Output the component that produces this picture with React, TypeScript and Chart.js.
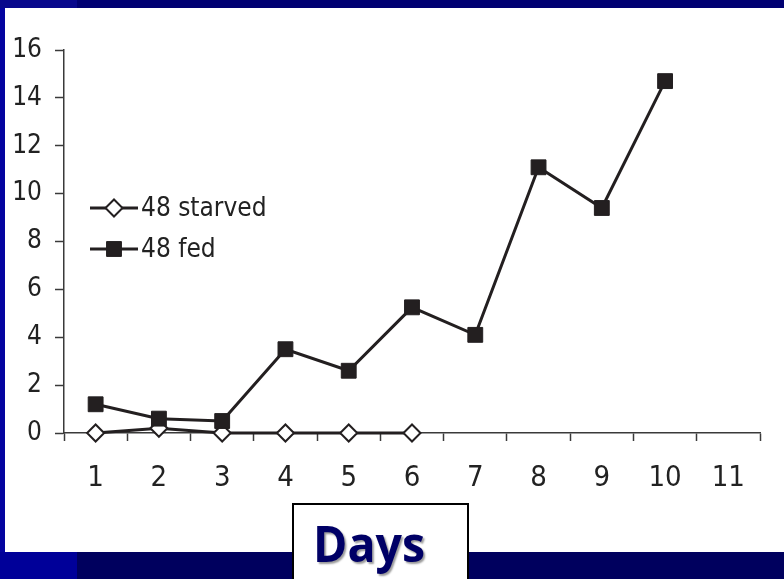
import React, { useEffect, useRef } from "react";
import { Chart, registerables } from "chart.js";

Chart.register(...registerables);

// Days on the x axis
const days = ["1", "2", "3", "4", "5", "6", "7", "8", "9", "10", "11"];

// Series values
const starvedLabel = "48 starved";
const starvedValues = [0, 0.2, 0, 0, 0, 0];
const fedLabel = "48 fed";
const fedValues = [1.2, 0.6, 0.5, 3.5, 2.6, 5.25, 4.1, 11.1, 9.4, 14.7];

// Y axis range
const yMin = 0;
const yMax = 16;
const yStep = 2;

const INK = "#231f20";
const AXIS = "#3a3a3a";
const NARROW = '"Liberation Sans Narrow", "DejaVu Sans Condensed", "Liberation Sans", sans-serif';

// Legend drawn inside the plot: a short line with the series marker on it
const insideLegend = {
  id: "insideLegend",
  afterDatasetsDraw(chart: any) {
    const { ctx, chartArea } = chart;
    const x0 = chartArea.left + 26;
    const x1 = chartArea.left + 74;
    const xm = (x0 + x1) / 2;
    const textX = chartArea.left + 77;
    const y0 = chartArea.top + 158;
    const dy = 41;
    chart.data.datasets.forEach((ds: any, i: number) => {
      const y = y0 + i * dy;
      ctx.save();
      ctx.strokeStyle = ds.borderColor;
      ctx.lineWidth = ds.borderWidth;
      ctx.beginPath();
      ctx.moveTo(x0, y);
      ctx.lineTo(x1, y);
      ctx.stroke();
      const r = ds.pointRadius;
      ctx.fillStyle = ds.pointBackgroundColor;
      ctx.strokeStyle = ds.pointBorderColor;
      ctx.lineWidth = ds.pointBorderWidth;
      ctx.beginPath();
      if (ds.pointStyle === "rect") {
        const s = Math.SQRT1_2 * r;
        ctx.rect(xm - s, y - s, 2 * s, 2 * s);
      } else {
        ctx.moveTo(xm - r, y);
        ctx.lineTo(xm, y - r);
        ctx.lineTo(xm + r, y);
        ctx.lineTo(xm, y + r);
        ctx.closePath();
      }
      ctx.fill();
      ctx.stroke();
      ctx.fillStyle = "#222";
      ctx.font = `26px ${NARROW}`;
      ctx.textAlign = "left";
      ctx.textBaseline = "middle";
      ctx.fillText(ds.label, textX, y + 1);
      ctx.restore();
    });
  },
};

function DaysChart() {
  const ref = useRef<HTMLCanvasElement | null>(null);

  useEffect(() => {
    if (!ref.current) return;
    const chart = new Chart(ref.current, {
      type: "line",
      data: {
        labels: days,
        datasets: [
          {
            label: starvedLabel,
            data: starvedValues,
            borderColor: INK,
            borderWidth: 3,
            pointStyle: "rectRot",
            pointRadius: 8.5,
            pointBackgroundColor: "#ffffff",
            pointBorderColor: INK,
            pointBorderWidth: 2,
            tension: 0,
            clip: false,
            order: 2,
          } as any,
          {
            label: fedLabel,
            data: fedValues,
            borderColor: INK,
            borderWidth: 3,
            pointStyle: "rect",
            pointRadius: 10.5,
            pointBackgroundColor: INK,
            pointBorderColor: INK,
            pointBorderWidth: 1,
            tension: 0,
            clip: false,
            order: 1,
          } as any,
        ],
      },
      options: {
        responsive: false,
        animation: false,
        events: [],
        layout: { padding: { left: 0, top: 50, right: 24, bottom: 0 } },
        plugins: {
          legend: { display: false },
          tooltip: { enabled: false },
        },
        scales: {
          x: {
            type: "category",
            offset: true,
            grid: {
              offset: true,
              drawOnChartArea: false,
              drawTicks: true,
              tickLength: 8,
              tickColor: AXIS,
              tickWidth: 1.5,
            },
            border: { display: true, color: AXIS, width: 1.5 },
            ticks: {
              color: "#222",
              font: { family: NARROW, size: 29 },
              padding: 20,
              maxRotation: 0,
              autoSkip: false,
            },
            afterFit: (scale: any) => {
              scale.height = 146;
            },
          },
          y: {
            min: yMin,
            max: yMax,
            grid: {
              drawOnChartArea: false,
              drawTicks: true,
              tickLength: 9,
              tickColor: AXIS,
              tickWidth: 1.5,
            },
            border: { display: true, color: AXIS, width: 1.5 },
            ticks: {
              stepSize: yStep,
              color: "#222",
              font: { family: NARROW, size: 26 },
              padding: 13,
            },
            afterFit: (scale: any) => {
              scale.width = 64;
            },
          },
        },
      },
      plugins: [insideLegend],
    });
    return () => chart.destroy();
  }, []);

  return (
    <canvas
      ref={ref}
      width={784}
      height={579}
      style={{ position: "absolute", left: 0, top: 0, width: 784, height: 579 }}
    />
  );
}

export default function App() {
  return (
    <div
      style={{
        position: "fixed",
        left: 0,
        top: 0,
        width: 784,
        height: 579,
        background: "#000072",
        overflow: "hidden",
      }}
    >
      <div style={{ position: "absolute", left: 0, top: 0, width: 77, height: 8, background: "#08088c" }} />
      <div style={{ position: "absolute", left: 0, top: 8, width: 5, height: 544, background: "#0404a0" }} />
      <div style={{ position: "absolute", left: 0, top: 552, width: 77, height: 27, background: "#000099" }} />
      <div style={{ position: "absolute", left: 77, top: 552, width: 707, height: 27, background: "#00005e" }} />
      <div style={{ position: "absolute", left: 5, top: 8, width: 779, height: 544, background: "#ffffff" }} />
      <DaysChart />
      <div
        style={{
          position: "absolute",
          left: 292,
          top: 503,
          width: 177,
          height: 82,
          boxSizing: "border-box",
          border: "2px solid #000",
          background: "#ffffff",
        }}
      >
        <div
          style={{
            position: "absolute",
            left: 19,
            top: 4,
            fontFamily: '"Open Sans", sans-serif',
            fontWeight: 700,
            fontSize: 50,
            lineHeight: "68px",
            color: "#000066",
            textShadow: "2px 2px 2px #9a9a9a",
            whiteSpace: "nowrap",
            transform: "scaleX(0.93)",
            transformOrigin: "left center",
          }}
        >
          Days
        </div>
      </div>
    </div>
  );
}
